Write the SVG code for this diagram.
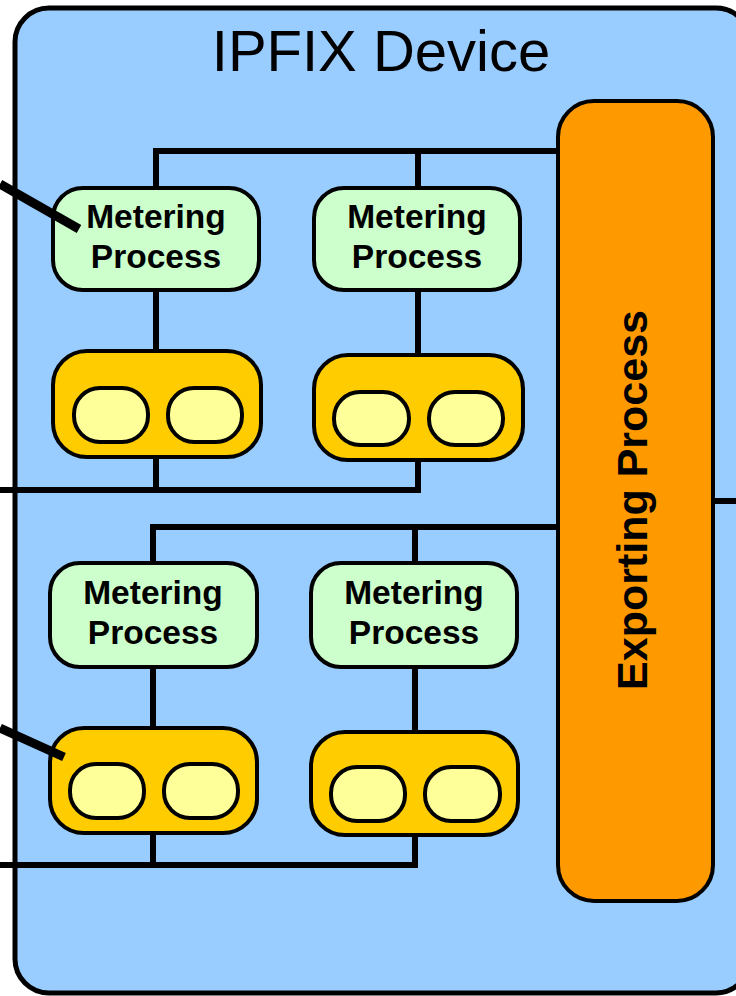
<svg xmlns="http://www.w3.org/2000/svg" width="736" height="996" viewBox="0 0 736 996">
<style>
.dev{fill:#99CCFF;stroke:#000;stroke-width:5}
.mp{fill:#CCFFCC;stroke:#000;stroke-width:4}
.agg{fill:#FFCC00;stroke:#000;stroke-width:4}
.pill{fill:#FFFF99;stroke:#000;stroke-width:4}
.exp{fill:#FF9900;stroke:#000;stroke-width:4}
.ln{fill:none;stroke:#000;stroke-width:6;stroke-linecap:butt;stroke-linejoin:miter}
.diag{fill:none;stroke:#000;stroke-width:9}
.lbl{font-family:"Liberation Sans",Arial,sans-serif;font-weight:bold;font-size:33.5px;text-anchor:middle;fill:#000}
.title{font-family:"Liberation Sans",Arial,sans-serif;font-size:58px;text-anchor:middle;fill:#000}
</style>
<rect width="736" height="996" fill="#fff"/>
<g id="device">
<rect class="dev" x="15" y="8" width="735" height="985" rx="34"/>
<text class="title" x="381" y="71">IPFIX Device</text>
</g>
<g id="connectors">
<path class="ln" d="M156,188 V151 H558 M418,151 V188"/>
<path class="ln" d="M156,290 V351 M418,290 V355"/>
<path class="ln" d="M156,457 V490 H0 M418,460 V490 H156"/>
<path class="ln" d="M153,563 V527 H558 M415,527 V563"/>
<path class="ln" d="M153,667 V728 M415,667 V732"/>
<path class="ln" d="M153,833 V865 H0 M415,835 V865 H153"/>
<path class="ln" d="M713,501 H736"/>
</g>
<g id="exporter">
<rect class="exp" x="558" y="101" width="155" height="800" rx="36"/>
<text class="lbl" style="font-size:43px" transform="translate(647,500) rotate(-90)">Exporting Process</text>
</g>
<g id="mp1">
<rect class="mp" x="53" y="188" width="206" height="102" rx="30"/>
<text class="lbl" x="156" y="228">Metering</text>
<text class="lbl" x="156" y="268">Process</text>
</g>
<g id="mp2">
<rect class="mp" x="314" y="188" width="206" height="102" rx="30"/>
<text class="lbl" x="417" y="228">Metering</text>
<text class="lbl" x="417" y="268">Process</text>
</g>
<g id="mp3">
<rect class="mp" x="50" y="563" width="207" height="104" rx="30"/>
<text class="lbl" x="153" y="604">Metering</text>
<text class="lbl" x="153" y="644">Process</text>
</g>
<g id="mp4">
<rect class="mp" x="311" y="563" width="206" height="104" rx="30"/>
<text class="lbl" x="414" y="604">Metering</text>
<text class="lbl" x="414" y="644">Process</text>
</g>
<g id="agg1">
<rect class="agg" x="53" y="351" width="208" height="106" rx="34"/>
<rect class="pill" x="74" y="388" width="74" height="54" rx="26"/>
<rect class="pill" x="168" y="388" width="74" height="54" rx="26"/>
</g>
<g id="agg2">
<rect class="agg" x="314" y="355" width="209" height="105" rx="34"/>
<rect class="pill" x="334" y="392" width="75" height="53" rx="26"/>
<rect class="pill" x="429" y="392" width="74" height="53" rx="26"/>
</g>
<g id="agg3">
<rect class="agg" x="50" y="728" width="207" height="105" rx="34"/>
<rect class="pill" x="70" y="764" width="74" height="54" rx="26"/>
<rect class="pill" x="164" y="764" width="74" height="54" rx="26"/>
</g>
<g id="agg4">
<rect class="agg" x="311" y="732" width="207" height="103" rx="34"/>
<rect class="pill" x="331" y="767" width="74" height="54" rx="26"/>
<rect class="pill" x="425" y="767" width="75" height="54" rx="26"/>
</g>
<g id="links">
<path class="diag" d="M0,184 L79,229"/>
<path class="diag" d="M0,728 L64,757"/>
</g>
</svg>
